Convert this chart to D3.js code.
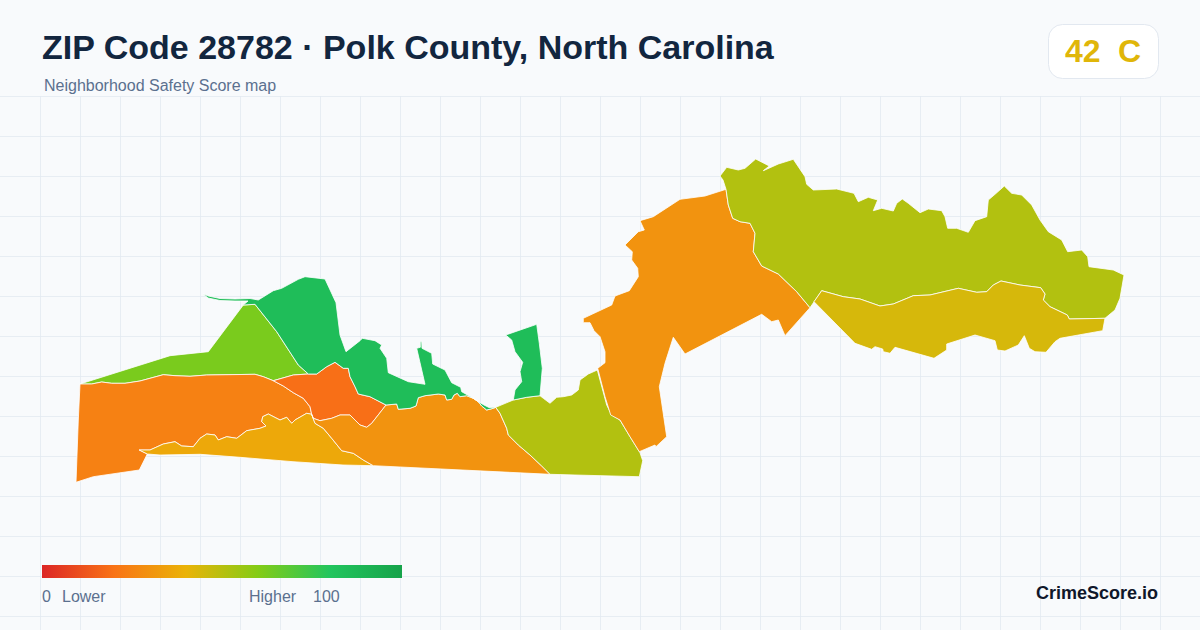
<!DOCTYPE html>
<html>
<head>
<meta charset="utf-8">
<script src="https://cdn.jsdelivr.net/npm/d3@7"></script>
<style>
html, body { margin: 0; padding: 0; background: #f8fafc; }
svg { display: block; font-family: "Liberation Sans", Arial, sans-serif; }
</style>
</head>
<body>
<svg id="chart"></svg>
<script>
var width = 1200;
var height = 630;

var titleText = "ZIP Code 28782 \u00b7 Polk County, North Carolina";
var subtitleText = "Neighborhood Safety Score map";
var overallScore = 42;
var overallGrade = "C";
var brandText = "CrimeScore.io";

// legend ramp
var rampStops = [0, 20, 40, 60, 80, 100];
var rampColors = ["#dc2626", "#f97316", "#eab308", "#84cc16", "#22c55e", "#16a34a"];

// block groups: score read from the fill, outlines
var westLime = [[80,384],[170,355.7],[208.3,351.7],[243.3,305],[255,304.3],[276.7,331.7],[298.3,365],[308.3,374],[293.3,375],[273.3,380.7],[263.3,376.7],[255,374.3],[206.7,375],[190,376.3],[175,375.7],[163.3,374.7],[140,381],[125,383.3],[111.7,383.3],[101.7,382],[91.7,384]];
var westOrange = [[80,384],[91.7,384],[101.7,382],[111.7,383.3],[125,383.3],[140,381],[163.3,374.7],[175,375.7],[190,376.3],[206.7,375],[255,374.3],[263.3,376.7],[273.3,380.7],[283.3,386],[293.3,392.7],[303.3,398.3],[310,406.7],[311.7,414.3],[306.7,413.3],[295,420],[291.7,423.3],[286.7,417.3],[280,420],[268.3,414],[262.7,416.7],[261.7,421.7],[266,426],[260,428.3],[246.7,430.7],[236.7,438.3],[226.7,436.7],[218.3,440],[215,435],[206.7,434],[200,438.3],[193.3,446.7],[181.7,446],[175,441.7],[163.3,444],[150,450],[139.3,450],[147.3,454],[139.3,470],[93.3,476.7],[76,482.3],[78.3,420]];
var southGold = [[139.3,450],[150,450],[163.3,444],[175,441.7],[181.7,446],[193.3,446.7],[200,438.3],[206.7,434],[215,435],[218.3,440],[226.7,436.7],[236.7,438.3],[246.7,430.7],[260,428.3],[266,426],[261.7,421.7],[262.7,416.7],[268.3,414],[280,420],[286.7,417.3],[291.7,423.3],[295,420],[306.7,413.3],[311.7,414.3],[315,423.3],[323.3,428.3],[331.7,438.3],[341.7,450.7],[353.3,453.3],[363.3,460],[373.3,465.7],[343,465],[293,461.7],[240,457.3],[200,454.3],[160,455],[147.3,454]];
var centerRed = [[273.3,380.7],[293.3,375],[308.3,374],[316.7,374],[326.7,366.7],[335,362.3],[343.3,368.3],[348.3,368.3],[350,376.7],[355,386.7],[358.3,394],[370,396.7],[386,405],[371.7,423.3],[366.7,427.3],[360,425],[350,415],[340,415],[331.7,418.3],[320,420.7],[313.3,418.3],[311.7,414.3],[310,406.7],[303.3,398.3],[293.3,392.7],[283.3,386]];
var southOrange = [[311.7,414.3],[313.3,418.3],[320,420.7],[331.7,418.3],[340,415],[350,415],[360,425],[366.7,427.3],[371.7,423.3],[386,405],[396.7,404],[398.3,409.3],[410,408.3],[416,406],[418.3,397.7],[425,395.7],[438.3,394],[445,395],[446.7,400],[451.7,399.3],[454,395],[457.3,393.3],[460,396.7],[466.7,395.7],[473.3,398.3],[478.3,401.7],[481.7,406],[486.7,410],[493.3,408.3],[495.7,407.3],[500,413.3],[506.7,428.3],[508.3,435],[518.3,445],[530,455],[541.7,466],[550,474.3],[373.3,465.7],[363.3,460],[353.3,453.3],[341.7,450.7],[331.7,438.3],[323.3,428.3],[315,423.3]];
var southOlive = [[495.7,407.3],[513.3,400],[526.7,397.3],[540,395.7],[543.3,398.3],[550,403.3],[556.7,397.3],[563.3,396.7],[571.7,395],[578.3,390],[580,380],[588.3,374],[597.3,370],[606.7,405],[611.7,415],[620,420],[630,436.7],[640,452.7],[642.7,460.7],[639.3,476.7],[575,475],[550,474.3],[541.7,466],[530,455],[518.3,445],[508.3,435],[506.7,428.3],[500,413.3]];
var northGreen = [[203.3,294],[208.3,296],[220,298.5],[235,299],[250,298.5],[258.3,300],[273.3,290.7],[281.7,288.3],[298.3,279.3],[305,276.7],[325,279],[336,302.7],[340,335],[346,351.7],[360,340.7],[362.3,338.3],[375,340.7],[381.7,345],[380,348.3],[386.7,358.3],[388.3,372.7],[408.3,381.7],[425,384.3],[416.7,348.3],[420.3,347.3],[420.3,341.7],[421.7,341.7],[422,348.3],[431.7,353.3],[432.7,364],[445,370],[451.7,382.7],[460.7,387.3],[461.7,391.7],[473.3,398.3],[478.3,401.7],[484,405],[489,407.5],[495.7,407.3],[493.3,408.3],[486.7,410],[481.7,406],[478.3,401.7],[473.3,398.3],[466.7,395.7],[460,396.7],[457.3,393.3],[454,395],[451.7,399.3],[446.7,400],[445,395],[438.3,394],[425,395.7],[418.3,397.7],[416,406],[410,408.3],[398.3,409.3],[396.7,404],[386,405],[370,396.7],[358.3,394],[355,386.7],[350,376.7],[348.3,368.3],[343.3,368.3],[335,362.3],[326.7,366.7],[316.7,374],[308.3,374],[298.3,365],[276.7,331.7],[255,304.3],[243.3,305],[248,301],[235,301],[220,300.5],[208,298]];
var eastGreen = [[505.7,335],[536.7,324.3],[539.3,343.3],[542.3,368.3],[540,395.7],[526.7,397.3],[513.3,400],[515,390],[521.7,381.7],[520,371.7],[522.7,362.3],[515,351.7],[511.7,340]];
var bigOrange = [[726,189.3],[728.3,205],[732.7,218.3],[740,221.7],[750,223.3],[755,233.3],[753.3,251.7],[761.7,266],[778.3,274],[796.7,291.7],[810,307.7],[785,335.7],[778.3,320],[771.7,321.7],[761.7,314.3],[685,354],[673.3,337.3],[665,363.3],[659.3,386.7],[666.7,436.7],[656,446.7],[655,445],[639.3,451.7],[630,436.7],[620,420],[610.7,415],[605,396.7],[597.7,368.3],[605,362.7],[605,351.7],[600,336.7],[594,330.7],[590,322.7],[583.3,322.7],[583.3,318.3],[611.7,305],[615,296],[629.3,290.7],[638.3,276.7],[637.7,268.3],[631.7,260],[632.3,251.7],[625,245],[638.3,231.7],[644.3,230],[640,220.7],[653.3,216.7],[680,199.3],[705,196]];
var northOlive = [[720,176],[726.7,167.3],[738.3,170],[745,168.3],[755.7,159],[769.3,166],[763.3,170.7],[778.3,164],[793.3,159.3],[805,176.7],[806.7,184.3],[813.3,190],[836.7,189],[854,193.3],[858.3,201.7],[868.3,197.3],[877.7,200],[873.3,210.7],[881.7,208.3],[893.3,211],[896.7,203.3],[902.3,199],[908.3,203.3],[920,212.7],[928.3,209],[941.7,210.7],[945,216.7],[947.7,228.3],[956.7,228.3],[968.3,232.3],[975,220.7],[986.7,216.7],[988.3,200],[995,194.3],[1004.3,186],[1011.7,193.3],[1021.7,195],[1031.7,205],[1040,220],[1048.3,231.7],[1061.7,240],[1067.7,251.7],[1081.7,250],[1087.7,256.7],[1089,266.7],[1113.3,270],[1124,275],[1120,298.3],[1115,310],[1105,318.3],[1069.3,319],[1067.3,315],[1050,306.7],[1043.3,300],[1045,294],[1040.7,287.7],[1020,285],[1001,281],[993.3,285],[986.7,291.7],[976.7,292.3],[958.3,288.3],[930,295],[913.3,295.7],[893.3,304],[880,306],[860,299],[843.3,296.7],[821.7,290.7],[810,307.7],[796.7,291.7],[778.3,274],[761.7,266],[753.3,251.7],[755,233.3],[750,223.3],[740,221.7],[732.7,218.3],[728.3,205],[726,189.3],[723,180]];
var eastGold = [[821.7,290.7],[843.3,296.7],[860,299],[880,306],[893.3,304],[913.3,295.7],[930,295],[958.3,288.3],[976.7,292.3],[986.7,291.7],[993.3,285],[1001,281],[1020,285],[1040.7,287.7],[1045,294],[1043.3,300],[1050,306.7],[1067.3,315],[1069.3,319],[1105,318.3],[1102.7,330.7],[1060,338.3],[1055,341.7],[1046,352.3],[1035,351.7],[1029.3,348.3],[1024.3,335.7],[1018.3,345],[1005,351],[997.3,350],[995,340.7],[975,335],[946.7,344],[946.7,350],[934,358.3],[895,347.3],[890,353.3],[883.3,351.7],[882.7,349],[875,346.7],[871.7,349.3],[855,343.3],[814,301.7]];

var tractOutlines = [westLime, westOrange, southGold, centerRed, southOrange, southOlive, northGreen, eastGreen, bigOrange, northOlive, eastGold];
var tractScores = [62, 24.5, 36.5, 19, 30, 51, 85, 85, 30, 51, 44];

var svg = d3.select("#chart")
    .attr("width", width)
    .attr("height", height);

var scoreColor = d3.scaleLinear()
    .domain(rampStops)
    .range(rampColors);

// background grid below the header
var gridX = d3.range(40, width, 40);
var gridY = d3.range(96, height, 40);
var grid = svg.append("g")
    .attr("stroke", "#e2e8f0")
    .attr("stroke-opacity", 0.75)
    .attr("stroke-width", 1);

grid.selectAll("line.v").data(gridX).enter().append("line")
    .attr("class", "v")
    .attr("x1", function(d) { return d + 0.5; })
    .attr("x2", function(d) { return d + 0.5; })
    .attr("y1", 96)
    .attr("y2", height);

grid.selectAll("line.h").data(gridY).enter().append("line")
    .attr("class", "h")
    .attr("x1", 0)
    .attr("x2", width)
    .attr("y1", function(d) { return d + 0.5; })
    .attr("y2", function(d) { return d + 0.5; });

// map
var tracts = {
    type: "FeatureCollection",
    features: tractOutlines.map(function(ring, i) {
        return {
            type: "Feature",
            properties: { score: tractScores[i] },
            geometry: { type: "Polygon", coordinates: [ring.concat([ring[0]])] }
        };
    })
};

var projection = d3.geoIdentity().fitExtent([[76, 159], [1124, 482.3]], tracts);
var path = d3.geoPath(projection);

svg.append("g").selectAll("path").data(tracts.features).enter().append("path")
    .attr("d", path)
    .attr("fill", function(d) { return scoreColor(d.properties.score); })
    .attr("stroke", "#ffffff")
    .attr("stroke-width", 0.8)
    .attr("stroke-linejoin", "round");

// header
svg.append("text")
    .attr("x", 42)
    .attr("y", 59)
    .attr("font-size", 34)
    .attr("font-weight", 700)
    .attr("fill", "#12263f")
    .text(titleText);

svg.append("text")
    .attr("x", 44)
    .attr("y", 91)
    .attr("font-size", 16)
    .attr("fill", "#5b708f")
    .text(subtitleText);

// score badge
svg.append("rect")
    .attr("x", 1048.5)
    .attr("y", 24.5)
    .attr("width", 110)
    .attr("height", 54)
    .attr("rx", 14)
    .attr("fill", "#ffffff")
    .attr("stroke", "#e2e8f0");

svg.append("text")
    .attr("x", 1065)
    .attr("y", 62)
    .attr("font-size", 32)
    .attr("font-weight", 700)
    .attr("fill", scoreColor(overallScore))
    .text(overallScore);

svg.append("text")
    .attr("x", 1118)
    .attr("y", 62)
    .attr("font-size", 32)
    .attr("font-weight", 700)
    .attr("fill", scoreColor(overallScore))
    .text(overallGrade);

// legend
var legendX = d3.scaleLinear().domain([0, 100]).range([42, 402]);

var gradient = svg.append("defs").append("linearGradient")
    .attr("id", "scoreRamp");

gradient.selectAll("stop").data(rampStops).enter().append("stop")
    .attr("offset", function(d) { return d + "%"; })
    .attr("stop-color", function(d) { return scoreColor(d); });

svg.append("rect")
    .attr("x", legendX(0))
    .attr("y", 565)
    .attr("width", legendX(100) - legendX(0))
    .attr("height", 13)
    .attr("fill", "url(#scoreRamp)");

var legendLabels = [
    { x: 42, text: "0" },
    { x: 62, text: "Lower" },
    { x: 249, text: "Higher" },
    { x: 313, text: "100" }
];

svg.append("g").selectAll("text").data(legendLabels).enter().append("text")
    .attr("x", function(d) { return d.x; })
    .attr("y", 602)
    .attr("font-size", 16)
    .attr("fill", "#5b708f")
    .text(function(d) { return d.text; });

svg.append("text")
    .attr("x", 1158)
    .attr("y", 599)
    .attr("text-anchor", "end")
    .attr("font-size", 18)
    .attr("font-weight", 700)
    .attr("fill", "#0f172a")
    .text(brandText);
</script>
</body>
</html>
